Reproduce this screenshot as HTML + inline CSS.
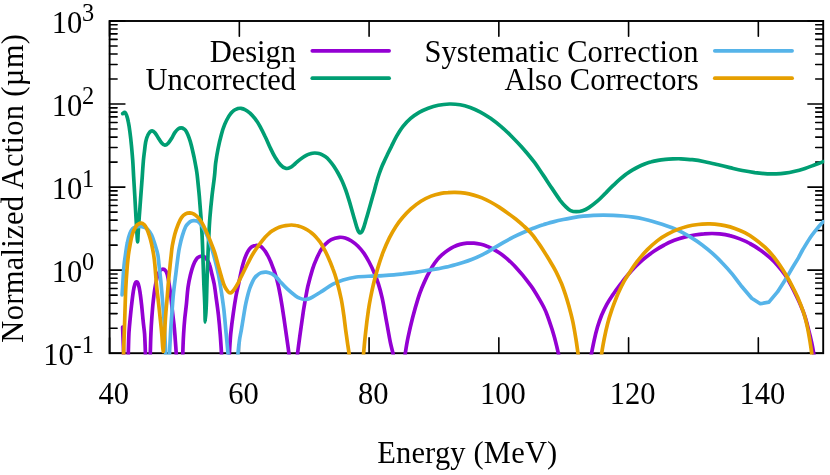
<!DOCTYPE html>
<html><head><meta charset="utf-8"><title>plot</title>
<style>
html,body{margin:0;padding:0;background:#fff;}
body{width:830px;height:475px;overflow:hidden;}
svg{display:block;will-change:transform;}
text{font-family:"Liberation Serif",serif;font-size:30.5px;fill:#000;}
</style></head><body>
<svg width="830" height="475" viewBox="0 0 830 475">
<rect x="0" y="0" width="830" height="475" fill="#fff"/>
<defs><clipPath id="c"><rect x="108.6" y="20.0" width="715.6" height="334.4"/></clipPath></defs>
<path d="M109.6,353.20 h15.3 M823.2,353.20 h-15.3 M109.6,328.20 h7.5 M823.2,328.20 h-7.5 M109.6,313.58 h7.5 M823.2,313.58 h-7.5 M109.6,303.20 h7.5 M823.2,303.20 h-7.5 M109.6,295.15 h7.5 M823.2,295.15 h-7.5 M109.6,288.57 h7.5 M823.2,288.57 h-7.5 M109.6,283.01 h7.5 M823.2,283.01 h-7.5 M109.6,278.20 h7.5 M823.2,278.20 h-7.5 M109.6,273.95 h7.5 M823.2,273.95 h-7.5 M109.6,270.15 h15.3 M823.2,270.15 h-15.3 M109.6,245.15 h7.5 M823.2,245.15 h-7.5 M109.6,230.53 h7.5 M823.2,230.53 h-7.5 M109.6,220.15 h7.5 M823.2,220.15 h-7.5 M109.6,212.10 h7.5 M823.2,212.10 h-7.5 M109.6,205.52 h7.5 M823.2,205.52 h-7.5 M109.6,199.96 h7.5 M823.2,199.96 h-7.5 M109.6,195.15 h7.5 M823.2,195.15 h-7.5 M109.6,190.90 h7.5 M823.2,190.90 h-7.5 M109.6,187.10 h15.3 M823.2,187.10 h-15.3 M109.6,162.10 h7.5 M823.2,162.10 h-7.5 M109.6,147.48 h7.5 M823.2,147.48 h-7.5 M109.6,137.10 h7.5 M823.2,137.10 h-7.5 M109.6,129.05 h7.5 M823.2,129.05 h-7.5 M109.6,122.47 h7.5 M823.2,122.47 h-7.5 M109.6,116.91 h7.5 M823.2,116.91 h-7.5 M109.6,112.10 h7.5 M823.2,112.10 h-7.5 M109.6,107.85 h7.5 M823.2,107.85 h-7.5 M109.6,104.05 h15.3 M823.2,104.05 h-15.3 M109.6,79.05 h7.5 M823.2,79.05 h-7.5 M109.6,64.43 h7.5 M823.2,64.43 h-7.5 M109.6,54.05 h7.5 M823.2,54.05 h-7.5 M109.6,46.00 h7.5 M823.2,46.00 h-7.5 M109.6,39.42 h7.5 M823.2,39.42 h-7.5 M109.6,33.86 h7.5 M823.2,33.86 h-7.5 M109.6,29.05 h7.5 M823.2,29.05 h-7.5 M109.6,24.80 h7.5 M823.2,24.80 h-7.5 M109.6,21.00 h15.3 M823.2,21.00 h-15.3 M109.60,353.2 v-15.3 M109.60,21.0 v15.3 M239.35,353.2 v-15.3 M239.35,21.0 v15.3 M369.09,353.2 v-15.3 M369.09,21.0 v15.3 M498.84,353.2 v-15.3 M498.84,21.0 v15.3 M628.58,353.2 v-15.3 M628.58,21.0 v15.3 M758.33,353.2 v-15.3 M758.33,21.0 v15.3" stroke="#000" stroke-width="1.6" fill="none" stroke-linecap="round"/>
<rect x="109.6" y="21.0" width="713.6" height="332.2" fill="none" stroke="#000" stroke-width="1.9"/>
<g clip-path="url(#c)" fill="none" stroke-width="3.7" stroke-linejoin="round" stroke-linecap="round">
<path d="M122.6,327.0 C122.8,331.3 122.9,335.7 123.1,340.0 C123.3,344.4 123.5,348.8 123.6,353.2 C123.7,357.5 123.8,361.7 123.9,366.0" stroke="#9400d3"/>
<path d="M128.0,366.0 C128.1,361.7 128.2,357.5 128.3,353.2 C128.5,346.8 128.6,340.4 128.9,334.0 C129.1,329.8 129.5,325.7 129.9,321.5 C130.4,316.0 131.0,310.4 131.6,304.9 C132.1,300.5 132.6,296.0 133.3,291.6 C133.7,289.1 134.1,286.5 134.9,284.1 C135.2,283.2 136.0,281.9 136.6,281.9 C137.2,281.9 138.0,283.2 138.3,284.1 C139.1,286.5 139.5,289.1 139.9,291.6 C140.6,296.0 141.1,300.5 141.6,304.9 C142.2,310.4 142.6,316.0 143.2,321.5 C143.6,325.7 144.3,329.8 144.6,334.0 C145.0,340.4 145.2,346.8 145.4,353.2 C145.6,357.5 145.7,361.7 145.8,366.0" stroke="#9400d3"/>
<path d="M150.0,366.0 C150.1,361.7 150.2,357.5 150.3,353.2 C150.5,346.8 150.6,340.4 150.9,334.0 C151.1,328.7 151.4,323.5 151.8,318.2 C152.2,312.7 152.6,307.1 153.2,301.6 C153.7,297.2 154.2,292.7 154.9,288.3 C155.6,284.4 156.3,280.4 157.4,276.6 C158.0,274.6 158.7,272.4 159.9,270.8 C160.5,269.9 161.9,269.1 162.9,269.1 C163.8,269.1 165.1,270.0 165.7,270.8 C166.6,271.9 167.0,273.5 167.4,275.0 C168.1,277.7 168.5,280.5 169.0,283.3 C169.6,287.2 170.2,291.0 170.7,294.9 C171.3,299.9 171.7,304.9 172.3,309.9 C172.8,314.9 173.5,319.8 174.0,324.8 C174.4,328.5 174.7,332.3 175.0,336.0 C175.4,341.7 175.9,347.5 176.2,353.2 C176.5,357.5 176.6,361.7 176.8,366.0" stroke="#9400d3"/>
<path d="M182.4,366.0 C182.5,361.7 182.6,357.5 182.8,353.2 C183.0,346.8 183.2,340.4 183.6,334.0 C183.9,328.7 184.3,323.5 184.8,318.2 C185.3,313.2 186.0,308.2 186.5,303.2 C187.0,298.0 187.3,292.7 188.0,287.5 C188.6,283.3 189.4,279.1 190.4,275.0 C191.2,271.8 192.0,268.6 193.2,265.5 C194.1,263.1 195.2,260.7 196.7,258.6 C197.3,257.7 198.5,257.1 199.5,256.6 C200.2,256.3 201.0,256.1 201.8,256.1 C202.6,256.1 203.6,256.3 204.3,256.8 C205.4,257.6 206.4,258.8 207.2,260.0 C208.1,261.4 209.0,263.0 209.5,264.6 C210.6,267.8 211.2,271.2 212.0,274.5 C212.8,277.7 213.6,280.8 214.2,284.0 C215.0,288.7 215.6,293.5 216.2,298.2 C217.0,303.8 217.8,309.3 218.4,314.9 C219.1,321.3 219.7,327.6 220.2,334.0 C220.7,340.4 221.1,346.8 221.5,353.2 C221.7,357.5 221.8,361.7 222.0,366.0" stroke="#9400d3"/>
<path d="M228.8,366.0 C229.0,361.7 229.1,357.5 229.4,353.2 C229.8,346.8 230.1,340.4 230.7,334.0 C231.4,327.0 232.3,320.1 233.3,313.2 C234.1,307.5 235.0,301.7 236.0,296.0 C236.7,292.0 237.7,288.0 238.6,284.0 C239.7,278.8 240.7,273.5 241.9,268.3 C242.6,265.5 243.3,262.7 244.2,260.0 C245.0,257.7 245.9,255.5 246.9,253.3 C247.6,251.8 248.4,250.4 249.4,249.1 C250.1,248.2 251.0,247.2 252.0,246.6 C253.2,245.9 254.7,245.3 256.1,245.3 C257.5,245.2 259.0,245.7 260.2,246.2 C261.2,246.7 262.2,247.6 263.0,248.5 C263.9,249.4 264.6,250.5 265.4,251.5 C266.3,253.0 267.2,254.5 268.0,256.0 C268.9,257.7 269.7,259.4 270.4,261.1 C271.2,262.9 271.8,264.7 272.5,266.5 C273.3,268.5 274.1,270.5 274.8,272.5 C275.7,275.2 276.4,277.9 277.1,280.6 C277.9,283.8 278.7,287.0 279.3,290.3 C280.2,294.7 281.0,299.2 281.7,303.7 C282.6,309.1 283.4,314.6 284.2,320.0 C285.0,325.3 285.7,330.7 286.5,336.0 C287.3,341.7 288.2,347.5 288.9,353.2 C289.4,357.5 289.8,361.7 290.3,366.0" stroke="#9400d3"/>
<path d="M296.3,366.0 C296.7,361.7 297.1,357.5 297.6,353.2 C298.4,346.4 299.4,339.5 300.3,332.7 C301.3,325.2 302.4,317.7 303.5,310.2 C304.1,306.5 304.8,302.7 305.4,299.0 C306.2,294.8 306.9,290.6 307.8,286.5 C309.2,280.8 310.7,275.1 312.4,269.6 C313.4,266.4 314.5,263.2 315.9,260.2 C317.2,257.1 318.7,254.0 320.3,251.0 C321.5,248.9 322.8,246.7 324.5,245.0 C326.4,242.9 328.7,240.9 331.2,239.6 C333.6,238.3 336.6,237.6 339.4,237.3 C341.3,237.1 343.4,237.4 345.2,238.0 C347.4,238.7 349.6,239.8 351.5,241.0 C353.8,242.5 355.9,244.1 357.8,246.0 C360.1,248.3 362.2,250.8 364.0,253.4 C365.9,256.1 367.5,259.0 369.1,262.0 C371.0,265.6 372.7,269.2 374.3,272.9 C375.8,276.4 377.2,280.0 378.3,283.6 C379.8,288.3 381.1,293.2 382.2,298.1 C383.9,306.0 385.1,314.0 386.6,322.0 C387.9,328.9 389.0,335.8 390.4,342.7 C391.1,346.2 392.2,349.7 392.9,353.2 C393.7,357.4 394.3,361.7 395.0,366.0" stroke="#9400d3"/>
<path d="M403.4,366.0 C404.0,361.7 404.6,357.5 405.3,353.2 C406.1,348.0 406.9,342.8 408.0,337.7 C409.4,331.0 410.9,324.3 412.6,317.7 C414.3,311.2 416.1,304.8 418.1,298.4 C419.2,294.8 420.5,291.3 421.9,287.8 C423.5,284.0 425.2,280.2 427.0,276.4 C428.7,273.1 430.5,269.7 432.4,266.5 C433.9,264.1 435.5,261.8 437.3,259.6 C438.6,258.0 440.1,256.5 441.6,255.1 C443.5,253.5 445.5,251.9 447.5,250.5 C449.4,249.2 451.4,247.9 453.5,246.9 C455.6,245.9 457.8,245.0 460.0,244.4 C462.3,243.8 464.6,243.4 467.0,243.2 C469.3,243.0 471.7,243.1 474.0,243.2 C476.3,243.4 478.7,243.8 481.0,244.3 C483.0,244.7 485.0,245.4 487.0,246.2 C488.9,246.9 490.8,247.8 492.7,248.8 C495.4,250.4 498.1,251.9 500.7,253.7 C503.1,255.4 505.4,257.4 507.7,259.3 C510.0,261.4 512.2,263.5 514.4,265.7 C517.2,268.8 520.0,271.9 522.7,275.1 C525.6,278.7 528.4,282.4 531.2,286.2 C532.7,288.3 534.1,290.5 535.5,292.7 C536.9,295.0 538.3,297.3 539.6,299.6 C541.0,302.0 542.4,304.5 543.7,307.0 C545.0,309.6 546.2,312.3 547.2,315.1 C548.9,319.6 550.4,324.2 551.9,328.8 C553.1,332.7 554.3,336.6 555.3,340.6 C556.4,344.8 557.4,349.0 558.3,353.2 C559.2,357.4 559.8,361.7 560.5,366.0" stroke="#9400d3"/>
<path d="M589.6,366.0 C590.3,361.7 590.8,357.5 591.6,353.2 C592.3,349.0 593.2,344.8 594.1,340.6 C595.1,336.1 596.2,331.5 597.5,327.1 C598.7,323.1 600.1,319.1 601.6,315.3 C603.2,311.6 604.9,307.9 606.8,304.4 C608.5,301.2 610.6,298.1 612.6,295.1 C613.8,293.3 615.1,291.6 616.3,289.9 C618.2,287.3 620.1,284.6 622.1,282.1 C624.0,279.6 626.0,277.2 628.0,274.8 C629.9,272.7 631.7,270.5 633.7,268.4 C637.1,265.1 640.5,261.8 644.2,258.7 C647.3,256.1 650.5,253.6 653.9,251.3 C657.2,249.0 660.7,246.9 664.3,245.0 C667.5,243.2 670.9,241.6 674.3,240.3 C677.6,239.0 681.0,238.0 684.4,237.1 C687.7,236.2 691.1,235.5 694.5,235.0 C697.6,234.5 700.8,234.1 704.0,233.9 C706.7,233.6 709.3,233.5 712.0,233.5 C714.6,233.5 717.2,233.5 719.7,233.8 C723.1,234.2 726.5,234.7 729.8,235.6 C733.2,236.4 736.6,237.6 739.8,238.9 C743.2,240.2 746.6,241.7 749.8,243.5 C753.2,245.3 756.6,247.4 759.8,249.7 C763.3,252.1 766.7,254.9 769.9,257.7 C772.5,260.0 775.1,262.6 777.4,265.2 C780.1,268.2 782.6,271.4 784.9,274.7 C787.2,278.1 789.1,281.7 791.1,285.3 C793.0,288.9 794.8,292.6 796.5,296.3 C797.8,299.1 799.2,301.8 800.3,304.6 C802.0,308.5 803.6,312.4 804.9,316.4 C806.4,320.9 807.5,325.6 808.7,330.2 C809.8,334.3 810.8,338.5 811.7,342.7 C812.5,346.2 813.1,349.7 813.7,353.2 C814.4,357.5 814.9,361.7 815.5,366.0" stroke="#9400d3"/>
<path d="M122.7,113.6 C123.3,113.2 124.1,112.1 124.6,112.3 C125.4,112.6 126.2,114.2 126.6,115.3 C127.4,117.4 127.9,119.7 128.3,121.9 C129.0,125.2 129.5,128.6 129.9,131.9 C130.5,136.3 131.0,140.8 131.4,145.2 C131.9,150.2 132.3,155.2 132.7,160.2 C133.1,165.5 133.3,170.7 133.6,176.0 C134.0,182.7 134.4,189.3 134.8,196.0 C135.2,203.2 135.6,210.4 136.0,217.6 C136.3,222.6 136.6,227.5 136.9,232.5 C137.1,235.6 137.4,241.9 137.6,241.9 C137.8,241.9 138.0,235.6 138.2,232.5 C138.5,227.5 138.8,222.6 139.2,217.6 C139.7,210.4 140.3,203.2 140.8,196.0 C141.3,189.3 141.8,182.7 142.3,176.0 C142.6,171.3 142.9,166.5 143.3,161.8 C143.6,157.9 144.1,154.1 144.6,150.2 C144.9,147.4 145.2,144.6 145.7,141.9 C146.1,139.9 146.6,138.0 147.4,136.1 C147.9,134.8 148.7,133.4 149.6,132.3 C150.2,131.6 151.3,130.7 152.1,130.8 C153.0,130.9 154.2,131.9 154.9,132.7 C156.2,134.2 157.1,136.0 158.2,137.7 C159.3,139.4 160.2,141.2 161.5,142.7 C162.4,143.7 163.7,145.1 164.9,145.2 C166.0,145.3 167.3,144.1 168.2,143.2 C169.5,141.9 170.5,140.2 171.5,138.6 C172.7,136.7 173.5,134.5 174.8,132.7 C175.8,131.3 176.9,129.9 178.2,128.9 C179.0,128.3 180.2,127.8 181.2,127.8 C182.1,127.8 183.2,128.3 184.0,128.9 C185.0,129.7 185.9,130.8 186.5,131.9 C187.5,133.7 188.3,135.7 189.0,137.7 C190.0,140.4 190.8,143.2 191.5,146.0 C192.4,149.6 193.2,153.3 194.0,156.9 C194.9,161.3 195.7,165.8 196.5,170.2 C196.8,172.1 197.1,174.1 197.3,176.0 C198.0,182.7 198.7,189.3 199.3,196.0 C199.9,203.2 200.5,210.4 201.0,217.6 C201.5,225.1 202.0,232.5 202.3,240.0 C202.7,248.3 202.9,256.7 203.2,265.0 C203.4,271.7 203.7,278.3 203.9,285.0 C204.2,291.7 204.6,298.3 204.8,305.0 C205.0,310.7 205.1,322.0 205.3,322.0 C205.6,322.0 206.1,310.7 206.3,305.0 C206.6,298.3 206.7,291.7 206.9,285.0 C207.1,278.3 207.3,271.7 207.6,265.0 C207.9,256.7 208.2,248.3 208.6,240.0 C209.0,232.5 209.3,225.1 209.9,217.6 C210.5,210.4 211.2,203.2 212.0,196.0 C212.7,189.3 213.8,182.7 214.5,176.0 C215.0,171.8 215.1,167.6 215.6,163.5 C216.3,158.5 217.1,153.5 218.1,148.5 C219.0,143.8 220.1,139.1 221.4,134.4 C222.3,131.0 223.4,127.6 224.7,124.4 C225.9,121.5 227.3,118.7 228.9,116.1 C230.0,114.3 231.4,112.4 233.0,111.1 C234.4,109.9 236.3,109.2 238.0,108.6 C238.9,108.3 240.0,108.2 241.0,108.3 C242.4,108.5 243.7,108.9 244.9,109.6 C246.7,110.5 248.4,111.8 250.0,113.1 C251.8,114.8 253.5,116.7 255.0,118.6 C256.8,121.0 258.5,123.6 260.0,126.3 C261.8,129.6 263.5,133.1 265.1,136.5 C266.9,140.1 268.4,143.8 270.1,147.5 C271.7,150.8 273.2,154.2 275.1,157.3 C276.7,160.0 278.4,162.7 280.5,164.9 C281.9,166.4 283.8,167.8 285.6,168.3 C286.9,168.7 288.7,168.3 289.9,167.7 C291.8,166.7 293.4,165.1 295.1,163.7 C296.8,162.3 298.4,160.8 300.2,159.4 C301.8,158.1 303.5,156.9 305.3,155.9 C306.8,155.0 308.5,154.2 310.2,153.7 C311.7,153.2 313.3,153.0 314.8,153.0 C316.6,153.0 318.4,153.2 320.0,153.8 C321.9,154.4 323.6,155.5 325.2,156.6 C326.8,157.7 328.2,159.1 329.5,160.6 C331.0,162.3 332.4,164.1 333.7,166.0 C335.2,168.3 336.7,170.6 338.0,173.0 C339.5,175.7 340.9,178.4 342.2,181.2 C343.5,184.1 344.6,187.0 345.7,190.0 C346.9,193.3 347.9,196.6 348.9,199.9 C349.9,203.1 350.8,206.3 351.7,209.5 C352.7,213.0 353.6,216.5 354.7,220.0 C355.6,223.2 356.4,226.5 357.6,229.5 C358.1,230.8 359.1,232.9 360.0,233.0 C360.8,233.1 362.1,231.4 362.6,230.3 C364.2,226.8 365.1,222.8 366.2,219.0 C367.5,215.1 368.5,211.0 369.7,207.0 C370.4,204.5 371.1,202.0 371.8,199.5 C372.6,196.7 373.4,194.0 374.2,191.2 C375.0,188.2 375.7,185.2 376.6,182.2 C377.4,179.3 378.3,176.4 379.3,173.5 C380.1,171.2 380.9,168.9 381.8,166.7 C382.7,164.6 383.7,162.5 384.6,160.5 C385.4,158.8 386.2,157.1 387.0,155.5 C388.5,152.4 389.9,149.3 391.5,146.3 C393.1,143.0 394.7,139.6 396.5,136.4 C398.5,133.0 400.6,129.5 403.0,126.4 C405.2,123.5 407.8,120.7 410.6,118.3 C413.2,116.0 416.2,114.1 419.2,112.3 C422.1,110.7 425.1,109.4 428.2,108.2 C431.5,107.0 434.9,106.0 438.3,105.3 C442.0,104.5 445.8,104.1 449.5,104.0 C453.0,103.9 456.6,104.2 460.1,104.8 C463.5,105.4 466.9,106.4 470.2,107.5 C473.7,108.8 477.1,110.4 480.4,112.1 C483.9,114.0 487.2,116.1 490.5,118.3 C494.0,120.8 497.4,123.4 500.6,126.2 C504.1,129.1 507.4,132.3 510.7,135.5 C514.2,139.0 517.6,142.6 521.0,146.2 C522.6,148.0 524.2,149.8 525.8,151.7 C528.8,155.3 531.9,159.0 534.7,162.7 C537.7,166.9 540.5,171.2 543.4,175.4 C546.3,179.7 549.1,184.1 552.0,188.4 C554.7,192.5 557.4,196.6 560.3,200.6 C562.0,202.8 563.9,204.9 565.9,206.9 C567.3,208.3 568.8,209.8 570.6,210.6 C572.3,211.4 574.4,211.7 576.3,211.7 C578.3,211.7 580.5,211.4 582.5,210.7 C584.7,210.0 586.9,208.9 588.9,207.6 C591.9,205.6 594.8,203.3 597.6,200.9 C600.6,198.3 603.2,195.3 606.1,192.6 C608.5,190.1 611.0,187.6 613.5,185.2 C615.6,183.2 617.8,181.1 620.0,179.2 C622.0,177.5 624.0,175.9 626.0,174.3 C628.2,172.8 630.4,171.3 632.7,169.9 C634.7,168.7 636.8,167.5 639.0,166.5 C641.1,165.5 643.2,164.6 645.3,163.7 C647.3,163.0 649.4,162.3 651.5,161.8 C653.6,161.2 655.8,160.8 658.0,160.4 C660.5,160.0 663.0,159.7 665.5,159.4 C668.0,159.1 670.5,159.0 673.0,158.9 C675.6,158.8 678.1,158.7 680.7,158.8 C684.5,159.0 688.4,159.2 692.2,159.7 C696.4,160.2 700.6,160.9 704.7,161.7 C708.9,162.5 713.0,163.5 717.2,164.5 C721.4,165.5 725.6,166.6 729.8,167.6 C734.0,168.6 738.1,169.7 742.3,170.5 C746.4,171.3 750.6,172.0 754.8,172.6 C759.0,173.1 763.2,173.5 767.4,173.8 C770.3,173.9 773.2,173.9 776.1,173.8 C779.0,173.7 782.0,173.5 784.9,173.1 C788.3,172.7 791.6,172.0 794.9,171.2 C798.3,170.4 801.7,169.4 805.0,168.4 C808.4,167.3 811.7,166.0 815.0,164.8 C817.8,163.8 820.5,162.7 823.2,161.6" stroke="#009e73"/>
<path d="M122.1,294.9 C122.4,289.9 122.7,285.0 123.0,280.0 C123.3,275.0 123.6,270.0 124.1,265.0 C124.4,261.7 124.9,258.3 125.4,255.0 C126.0,250.8 126.5,246.6 127.4,242.5 C128.0,239.4 128.8,236.3 129.9,233.4 C130.5,231.8 131.3,230.2 132.4,228.9 C133.0,228.1 134.0,227.5 134.9,227.2 C136.7,226.7 138.8,226.3 140.7,226.4 C142.4,226.5 144.2,227.2 145.7,227.9 C146.7,228.4 147.5,229.2 148.2,230.0 C149.5,231.5 150.7,233.2 151.6,235.0 C153.0,237.9 153.9,241.1 154.9,244.2 C156.0,247.8 157.2,251.3 157.9,255.0 C158.5,258.3 158.6,261.7 159.0,265.0 C159.6,270.0 160.2,275.0 160.7,280.0 C161.3,285.5 161.7,291.1 162.2,296.6 C162.6,301.7 163.1,306.9 163.5,312.0 C163.9,318.0 164.3,324.0 164.6,330.0 C165.0,337.7 165.3,345.5 165.7,353.2 C165.9,357.5 166.1,361.7 166.3,366.0" stroke="#56b4e9"/>
<path d="M169.0,366.0 C169.2,361.7 169.3,357.5 169.5,353.2 C169.8,346.0 170.2,338.8 170.6,331.6 C171.0,325.1 171.5,318.5 172.0,312.0 C172.4,306.0 172.8,300.0 173.4,294.0 C174.0,287.7 174.9,281.3 175.7,275.0 C176.5,268.3 177.3,261.7 178.2,255.0 C178.6,251.9 179.1,248.8 179.8,245.8 C180.5,242.5 181.3,239.2 182.3,235.9 C183.2,232.8 184.2,229.6 185.6,226.7 C186.4,225.1 187.7,223.8 189.0,222.6 C189.7,221.9 190.6,221.2 191.5,220.9 C192.4,220.6 193.5,220.5 194.5,220.6 C195.4,220.6 196.5,220.7 197.3,221.2 C198.5,221.9 199.7,223.0 200.6,224.2 C202.3,226.3 203.8,228.6 205.0,231.0 C206.9,234.9 208.6,238.9 210.0,243.0 C211.9,248.6 213.5,254.3 215.0,260.0 C216.3,265.0 217.5,270.0 218.5,275.0 C219.6,280.6 220.5,286.3 221.4,292.0 C222.3,298.0 223.2,304.0 223.9,310.0 C224.7,317.3 225.3,324.7 226.0,332.0 C226.7,339.1 227.4,346.1 228.0,353.2 C228.4,357.5 228.7,361.7 229.0,366.0" stroke="#56b4e9"/>
<path d="M237.2,366.0 C237.5,361.7 237.6,357.5 238.0,353.2 C238.4,348.8 238.9,344.4 239.5,340.0 C240.0,336.3 240.9,332.7 241.5,329.0 C242.1,325.3 242.7,321.7 243.3,318.0 C243.9,314.4 244.5,310.7 245.1,307.1 C245.7,303.9 246.4,300.7 247.2,297.5 C247.9,294.5 248.7,291.5 249.7,288.5 C250.4,286.5 251.2,284.5 252.1,282.6 C252.9,280.9 253.7,279.3 254.7,277.8 C255.5,276.7 256.5,275.7 257.6,274.9 C258.6,274.1 259.8,273.2 261.1,272.8 C262.7,272.3 264.5,271.9 266.2,272.1 C268.2,272.3 270.2,273.0 272.0,273.9 C273.5,274.7 274.8,275.8 276.0,277.0 C277.3,278.1 278.4,279.6 279.6,280.9 C282.2,283.7 284.7,286.6 287.5,289.2 C290.1,291.6 292.8,293.9 295.7,296.0 C297.1,297.0 298.7,297.8 300.2,298.4 C301.5,298.9 302.8,299.4 304.1,299.5 C305.5,299.6 307.1,299.3 308.5,298.9 C309.9,298.5 311.2,297.8 312.4,297.1 C315.9,295.1 319.2,293.0 322.6,290.9 C326.0,288.7 329.3,286.1 332.9,284.2 C336.1,282.5 339.6,281.0 343.1,279.9 C347.4,278.6 351.8,277.6 356.3,277.0 C362.5,276.3 368.8,276.3 375.0,275.9 C377.7,275.8 380.3,275.8 383.0,275.6 C386.7,275.4 390.3,275.2 394.0,274.9 C397.0,274.6 399.9,274.2 402.9,273.9 C407.1,273.4 411.2,272.8 415.4,272.3 C419.9,271.6 424.5,270.9 429.0,270.2 C432.1,269.7 435.3,269.2 438.4,268.7 C441.2,268.1 444.1,267.5 446.9,266.9 C449.7,266.2 452.5,265.6 455.3,264.8 C458.1,264.1 460.9,263.2 463.7,262.3 C466.6,261.4 469.4,260.4 472.2,259.3 C475.9,257.8 479.5,256.1 483.1,254.3 C486.5,252.6 489.7,250.6 493.0,248.7 C496.4,246.7 499.8,244.6 503.2,242.6 C506.5,240.7 509.8,238.8 513.2,237.1 C516.5,235.5 519.8,234.0 523.2,232.5 C526.5,231.0 529.8,229.6 533.2,228.3 C536.5,227.1 539.8,225.8 543.2,224.8 C546.5,223.7 549.9,222.8 553.3,221.9 C556.6,221.0 559.9,220.2 563.3,219.5 C566.6,218.8 570.0,218.2 573.3,217.6 C576.6,217.1 580.0,216.6 583.3,216.2 C586.7,215.8 590.0,215.6 593.4,215.4 C596.7,215.2 600.1,215.1 603.4,215.1 C606.7,215.1 610.1,215.2 613.4,215.3 C616.7,215.4 620.1,215.7 623.4,216.0 C626.8,216.3 630.2,216.7 633.5,217.2 C636.8,217.7 640.2,218.3 643.5,219.0 C646.4,219.7 649.3,220.4 652.1,221.2 C655.5,222.1 658.8,223.1 662.1,224.2 C665.5,225.3 668.8,226.5 672.1,227.8 C675.5,229.2 678.9,230.7 682.2,232.4 C685.6,234.2 689.0,236.1 692.2,238.1 C695.6,240.2 699.0,242.5 702.2,244.9 C705.6,247.5 709.0,250.2 712.2,253.1 C715.7,256.2 719.1,259.5 722.3,263.0 C725.8,266.6 729.1,270.3 732.3,274.2 C735.2,277.8 737.8,281.6 740.7,285.2 L751.7,298.2 L760.3,303.7 L768.9,302.1 L777.5,291.9 L786.1,278.6 C788.3,275.1 790.3,271.4 792.4,267.8 C794.5,264.3 796.7,260.8 798.7,257.3 C800.1,254.9 801.2,252.4 802.6,250.0 C805.0,246.0 807.4,241.9 810.0,238.0 C812.3,234.6 814.9,231.4 817.5,228.2 C819.3,225.9 821.3,223.8 823.2,221.6" stroke="#56b4e9"/>
<path d="M123.4,366.0 C123.5,361.7 123.5,357.5 123.6,353.2 C123.9,343.2 124.3,333.3 124.6,323.3 C125.0,312.2 125.2,301.1 125.7,290.0 C126.0,282.8 126.5,275.5 127.1,268.3 C127.4,263.9 127.9,259.4 128.4,255.0 C128.8,251.9 129.3,248.9 129.9,245.8 C130.6,241.9 131.2,238.0 132.4,234.2 C133.2,231.6 134.4,229.0 135.8,226.7 C136.4,225.7 137.3,224.8 138.3,224.2 C139.1,223.6 140.3,223.0 141.2,223.1 C142.2,223.2 143.3,223.9 144.1,224.6 C145.1,225.6 145.9,227.0 146.6,228.4 C147.6,230.5 148.4,232.8 149.1,235.0 C150.1,238.0 150.9,241.1 151.6,244.2 C152.4,247.8 153.1,251.4 153.7,255.0 C154.2,258.3 154.6,261.7 154.9,265.0 C155.5,271.7 155.9,278.3 156.5,285.0 C157.0,290.0 157.6,295.0 158.2,300.0 C158.8,305.2 159.4,310.3 159.9,315.5 C160.5,321.3 161.2,327.2 161.7,333.0 C162.3,339.2 162.7,351.0 163.2,351.5 C163.6,352.0 164.1,341.2 164.4,336.0 C164.9,329.3 165.1,322.7 165.6,316.0 C165.9,311.3 166.4,306.7 166.8,302.0 C167.3,296.3 167.7,290.7 168.2,285.0 C168.7,279.4 169.2,273.9 169.8,268.3 C170.2,263.9 170.7,259.4 171.2,255.0 C171.5,251.9 171.8,248.8 172.3,245.8 C173.0,241.9 173.8,238.0 174.8,234.2 C175.7,230.8 176.9,227.5 178.2,224.2 C179.1,221.9 180.1,219.6 181.5,217.6 C182.6,216.1 184.0,214.8 185.6,213.9 C186.8,213.2 188.4,212.9 189.8,212.9 C191.2,213.0 192.7,213.5 194.0,214.2 C195.5,215.1 196.9,216.3 198.1,217.6 C199.7,219.4 201.1,221.4 202.3,223.4 C203.9,226.1 205.1,228.9 206.4,231.7 C207.9,235.0 209.3,238.3 210.6,241.7 C212.0,245.3 213.5,248.8 214.7,252.5 C216.0,256.6 216.9,260.8 218.1,265.0 C219.2,268.9 220.2,272.8 221.4,276.6 C222.4,280.0 223.3,283.4 224.7,286.6 C225.5,288.4 226.7,290.1 228.0,291.6 C228.5,292.2 229.3,292.9 230.0,292.9 C230.7,293.0 231.6,292.5 232.2,291.9 C233.5,290.6 234.5,289.0 235.5,287.4 C236.7,285.5 237.8,283.6 238.9,281.6 C239.2,281.1 239.3,280.5 239.6,279.9 C240.8,277.4 242.1,274.9 243.3,272.5 C244.7,269.6 246.1,266.8 247.5,264.0 C249.0,261.2 250.4,258.4 251.9,255.7 C253.2,253.4 254.6,251.2 256.1,249.0 C257.4,247.1 258.8,245.1 260.2,243.3 C261.6,241.5 263.0,239.7 264.5,238.0 C265.9,236.5 267.3,234.9 268.8,233.6 C270.1,232.4 271.5,231.3 273.0,230.4 C274.3,229.5 275.7,228.8 277.2,228.1 C278.6,227.5 280.0,227.0 281.5,226.5 C282.8,226.1 284.2,225.8 285.6,225.6 C287.5,225.3 289.5,225.0 291.5,225.0 C293.0,225.0 294.5,225.2 296.0,225.5 C297.0,225.6 298.1,225.9 299.1,226.3 C300.6,226.7 302.1,227.3 303.5,227.9 C304.9,228.5 306.2,229.2 307.5,230.0 C308.9,230.9 310.4,231.9 311.7,233.0 C313.2,234.2 314.6,235.5 315.9,236.9 C317.2,238.3 318.3,239.8 319.5,241.3 C320.6,242.9 321.7,244.6 322.7,246.3 C324.4,249.4 326.1,252.6 327.6,255.9 C329.5,260.1 331.3,264.4 332.9,268.8 C334.3,272.4 335.6,276.2 336.6,279.9 C338.3,286.2 339.9,292.6 341.2,299.0 C342.3,304.3 343.0,309.6 343.8,315.0 C344.5,320.0 345.0,325.1 345.7,330.2 C346.3,334.5 346.9,338.7 347.5,343.0 C348.0,346.4 348.6,349.8 349.0,353.2 C349.5,357.5 349.9,361.7 350.4,366.0" stroke="#e69f00"/>
<path d="M362.9,366.0 C363.1,361.7 363.3,357.5 363.6,353.2 C364.2,346.4 364.8,339.5 365.6,332.7 C366.4,325.2 367.3,317.7 368.4,310.2 C369.0,306.1 369.7,302.1 370.5,298.0 C371.4,293.3 372.4,288.6 373.5,284.0 C374.8,278.5 376.3,273.0 377.9,267.6 C379.4,262.6 381.1,257.6 382.9,252.7 C384.9,247.6 387.1,242.5 389.5,237.7 C391.4,233.8 393.6,230.1 395.9,226.5 C397.9,223.5 400.0,220.6 402.4,217.8 C405.0,214.7 407.8,211.7 410.9,208.9 C414.0,206.1 417.3,203.5 420.9,201.2 C424.1,199.2 427.6,197.5 431.1,196.1 C434.3,194.9 437.8,194.1 441.1,193.4 C443.4,192.9 445.7,192.8 448.0,192.7 C450.3,192.5 452.7,192.3 455.0,192.4 C458.3,192.5 461.7,192.7 465.0,193.2 C467.9,193.6 470.8,194.3 473.7,195.1 C476.5,195.9 479.3,196.8 482.0,197.9 C484.9,199.1 487.8,200.5 490.5,202.0 C493.4,203.6 496.3,205.3 499.1,207.1 C501.9,209.0 504.7,210.9 507.5,212.9 C510.4,215.0 513.2,217.1 516.0,219.3 C518.8,221.6 521.6,224.0 524.3,226.5 C526.5,228.4 528.5,230.4 530.4,232.6 C532.4,234.8 534.3,237.1 536.0,239.6 C538.5,242.9 540.8,246.4 543.1,249.9 C545.3,253.4 547.4,256.8 549.5,260.3 C551.7,264.1 554.1,267.9 556.1,271.8 C558.1,275.7 559.9,279.8 561.6,283.8 C563.1,287.6 564.4,291.5 565.7,295.4 C567.1,299.6 568.2,303.8 569.4,308.0 C570.7,312.8 572.0,317.6 573.0,322.5 C574.1,327.9 575.0,333.4 575.9,338.9 C576.7,343.7 577.3,348.4 578.0,353.2 C578.6,357.5 579.1,361.7 579.6,366.0" stroke="#e69f00"/>
<path d="M600.3,366.0 C600.8,361.7 601.1,357.4 601.7,353.2 C602.4,348.4 603.3,343.6 604.2,338.9 C605.2,333.8 606.3,328.7 607.6,323.7 C608.8,319.1 610.2,314.6 611.7,310.2 C613.1,305.9 614.8,301.7 616.4,297.5 C617.4,295.0 618.5,292.5 619.7,290.0 C621.0,287.1 622.5,284.3 624.0,281.5 C625.5,278.8 627.2,276.1 628.9,273.5 C631.5,269.6 634.1,265.5 637.0,261.7 C640.3,257.5 643.7,253.4 647.4,249.6 C650.6,246.4 653.9,243.4 657.5,240.6 C660.6,238.2 664.1,236.1 667.6,234.2 C670.8,232.4 674.2,230.8 677.7,229.4 C681.0,228.1 684.4,227.1 687.8,226.2 C691.1,225.4 694.6,224.9 698.0,224.5 C701.3,224.1 704.7,224.0 708.0,223.9 C710.2,223.8 712.5,223.9 714.7,224.1 C718.1,224.5 721.5,224.9 724.8,225.6 C728.2,226.3 731.6,227.2 734.8,228.4 C738.2,229.6 741.6,231.0 744.8,232.7 C748.2,234.5 751.6,236.6 754.8,238.9 C758.4,241.4 761.7,244.3 764.9,247.2 C767.5,249.7 770.0,252.4 772.4,255.2 C775.1,258.4 777.5,261.8 779.9,265.2 C782.1,268.4 784.2,271.8 786.2,275.2 C788.4,278.9 790.5,282.7 792.4,286.5 C794.3,290.2 796.2,293.9 797.9,297.7 C800.0,302.6 801.9,307.6 803.6,312.7 C805.2,317.6 806.4,322.7 807.5,327.7 C808.5,332.3 809.2,336.9 810.0,341.5 C810.6,345.4 811.2,349.3 811.7,353.2 C812.2,357.5 812.6,361.7 813.0,366.0" stroke="#e69f00"/>
</g>
<g fill="none" stroke-width="3.7" stroke-linecap="round">
<path d="M312.3,50.8 H389.1" stroke="#9400d3"/>
<path d="M312.3,78.2 H389.1" stroke="#009e73"/>
<path d="M714.8,50.8 H792.1" stroke="#56b4e9"/>
<path d="M714.8,78.2 H792.1" stroke="#e69f00"/>
</g>
<text x="73.8" y="364.8" text-anchor="end">10</text><text x="73.6" y="353.4" style="font-size:24.4px">-1</text>
<text x="82.2" y="281.8" text-anchor="end">10</text><text x="82.0" y="270.3" style="font-size:24.4px">0</text>
<text x="82.2" y="198.7" text-anchor="end">10</text><text x="82.0" y="187.3" style="font-size:24.4px">1</text>
<text x="82.2" y="115.7" text-anchor="end">10</text><text x="82.0" y="104.3" style="font-size:24.4px">2</text>
<text x="82.2" y="32.6" text-anchor="end">10</text><text x="82.0" y="21.2" style="font-size:24.4px">3</text>
<text x="113.7" y="404.1" text-anchor="middle">40</text>
<text x="243.4" y="404.1" text-anchor="middle">60</text>
<text x="373.2" y="404.1" text-anchor="middle">80</text>
<text x="502.9" y="404.1" text-anchor="middle">100</text>
<text x="632.7" y="404.1" text-anchor="middle">120</text>
<text x="762.4" y="404.1" text-anchor="middle">140</text>
<text x="467.2" y="463" text-anchor="middle" textLength="180.1" lengthAdjust="spacing">Energy (MeV)</text>
<text transform="translate(23.4,188.4) rotate(-90)" text-anchor="middle" textLength="308.6" lengthAdjust="spacing">Normalized Action (µm)</text>
<text x="296.1" y="62.1" text-anchor="end">Design</text>
<text x="296.1" y="89.8" text-anchor="end">Uncorrected</text>
<text x="698.6" y="62.1" text-anchor="end" textLength="274.2" lengthAdjust="spacing">Systematic Correction</text>
<text x="698.6" y="89.8" text-anchor="end">Also Correctors</text>
</svg></body></html>
